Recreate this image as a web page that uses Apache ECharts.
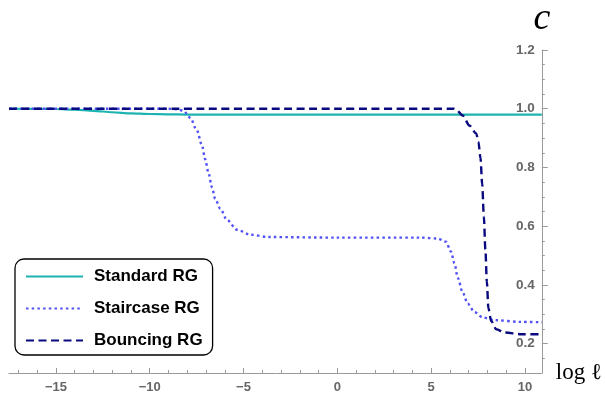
<!DOCTYPE html>
<html>
<head>
<meta charset="utf-8">
<script src="https://cdn.jsdelivr.net/npm/echarts@6/dist/echarts.min.js"></script>
<style>html,body{margin:0;padding:0;background:#fff}#c{width:605px;height:394px}</style>
</head>
<body>
<div id="c"></div>
<script>
// ---- data ----
const seriesNames = ['Standard RG', 'Staircase RG', 'Bouncing RG'];
const standardX = [-17.5, -15, -14, -13, -12, -11, -10, -9, -8, -5, 0, 5, 10, 10.9];
const standardY = [1.0, 0.999, 0.997, 0.993, 0.988, 0.984, 0.982, 0.981, 0.98, 0.98, 0.98, 0.98, 0.98, 0.98];
const staircaseX = [-17.5, -12, -9, -8.5, -8.2, -7.84, -7.49, -7.22, -7.04, -6.87, -6.68, -6.51, -6.24, -5.88, -5.35, -4.64, -3.66, 0, 4.45, 5.35, 5.79, 6.06, 6.24, 6.42, 6.68, 6.95, 7.3, 7.75, 8.37, 9.8, 10.9];
const staircaseY = [1.0, 1.0, 1.0, 0.998, 0.993, 0.969, 0.927, 0.877, 0.827, 0.782, 0.732, 0.693, 0.66, 0.621, 0.588, 0.571, 0.563, 0.561, 0.561, 0.558, 0.547, 0.513, 0.474, 0.424, 0.374, 0.336, 0.308, 0.289, 0.28, 0.274, 0.273];
const bouncingX = [-17.5, -10, 0, 5, 6.2, 6.33, 6.68, 7.04, 7.4, 7.52, 7.63, 7.72, 7.81, 7.89, 7.97, 8.05, 8.2, 8.47, 8.91, 9.8, 10.9];
const bouncingY = [1.0, 1.0, 1.0, 1.0, 1.0, 0.997, 0.977, 0.943, 0.916, 0.888, 0.832, 0.743, 0.632, 0.521, 0.41, 0.321, 0.277, 0.249, 0.238, 0.232, 0.232];
const xMajorTicks = [-15, -10, -5, 0, 5, 10];
const xMinorTicks = [-17, -16, -14, -13, -12, -11, -9, -8, -7, -6, -4, -3, -2, -1, 1, 2, 3, 4, 6, 7, 8, 9];
const yMajorTicks = [0.2, 0.4, 0.6, 0.8, 1.0, 1.2];
const yMinorTicks = [0.15, 0.25, 0.3, 0.35, 0.45, 0.5, 0.55, 0.65, 0.7, 0.75, 0.85, 0.9, 0.95, 1.05, 1.1, 1.15];

const zip = (xs, ys) => xs.map((x, i) => [x, ys[i]]);
const axisGray = '#9a9a9a';
const labelGray = '#666666';

const chart = echarts.init(document.getElementById('c'), null, {renderer: 'canvas'});
chart.setOption({
  animation: false,
  backgroundColor: '#fff',
  grid: {left: 9, right: 63, top: 43, bottom: 21},
  legend: {
    orient: 'vertical', left: 15, top: 259,
    padding: [9, 10, 6, 10], itemGap: 15, itemWidth: 57, itemHeight: 14,
    backgroundColor: '#fff', borderColor: '#000', borderWidth: 1.3, borderRadius: 9,
    itemStyle: {opacity: 0},
    textStyle: {fontFamily: 'Liberation Sans', fontWeight: 'bold', fontSize: 17, color: '#000', padding: [0, 0, 0, 6]},
    data: seriesNames
  },
  xAxis: [{
    type: 'value', min: -17.5, max: 10.9, position: 'bottom',
    name: 'log \u2113', nameLocation: 'end', nameGap: 14,
    nameTextStyle: {fontFamily: 'Liberation Serif', fontSize: 23, color: '#000', verticalAlign: 'middle'},
    axisLine: {onZero: false, lineStyle: {color: axisGray, width: 1}},
    axisTick: {inside: true, length: 5, customValues: xMajorTicks, lineStyle: {color: axisGray}},
    axisLabel: {customValues: xMajorTicks, margin: 8, fontFamily: 'Liberation Sans', fontWeight: 'bold', fontSize: 13, color: labelGray,
      formatter: v => String(v).replace('-', '\u2212')},
    splitLine: {show: false}
  }, {
    type: 'value', min: -17.5, max: 10.9, position: 'bottom',
    axisLine: {show: false, onZero: false},
    axisTick: {inside: true, length: 3, customValues: xMinorTicks, lineStyle: {color: axisGray}},
    axisLabel: {show: false},
    splitLine: {show: false}
  }],
  yAxis: [{
    type: 'value', min: 0.1, max: 1.2, position: 'right',
    name: 'c', nameLocation: 'end', nameGap: 12,
    nameTextStyle: {fontFamily: 'Liberation Serif', fontStyle: 'italic', fontSize: 38, color: '#000', align: 'center'},
    axisLine: {onZero: false, lineStyle: {color: axisGray, width: 1}},
    axisTick: {inside: false, length: 6, customValues: yMajorTicks, lineStyle: {color: axisGray}},
    axisLabel: {inside: true, customValues: yMajorTicks, margin: 7, fontFamily: 'Liberation Sans', fontWeight: 'bold', fontSize: 13.5, color: labelGray,
      formatter: v => v.toFixed(1)},
    splitLine: {show: false}
  }, {
    type: 'value', min: 0.1, max: 1.2, position: 'right',
    axisLine: {show: false, onZero: false},
    axisTick: {inside: false, length: 3, customValues: yMinorTicks, lineStyle: {color: axisGray}},
    axisLabel: {show: false},
    splitLine: {show: false}
  }],
  series: [{
    name: seriesNames[0], type: 'line', xAxisIndex: 0, yAxisIndex: 0,
    data: zip(standardX, standardY), symbol: 'none', smooth: 0.3, smoothMonotone: 'x',
    lineStyle: {color: '#1cb3b0', width: 2.2}, itemStyle: {color: '#1cb3b0'}, z: 2
  }, {
    name: seriesNames[1], type: 'line', xAxisIndex: 0, yAxisIndex: 0,
    data: zip(staircaseX, staircaseY), symbol: 'none', smooth: 0.3, smoothMonotone: 'x',
    lineStyle: {color: '#5252f5', width: 2.4, type: [2.5, 3.2]}, itemStyle: {color: '#5252f5'}, z: 3
  }, {
    name: seriesNames[2], type: 'line', xAxisIndex: 0, yAxisIndex: 0,
    data: zip(bouncingX, bouncingY), symbol: 'none', smooth: 0.3, smoothMonotone: 'x',
    lineStyle: {color: '#0a0a80', width: 2.4, type: [8, 4.5]}, itemStyle: {color: '#0a0a80'}, z: 4
  }]
});
</script>
</body>
</html>
